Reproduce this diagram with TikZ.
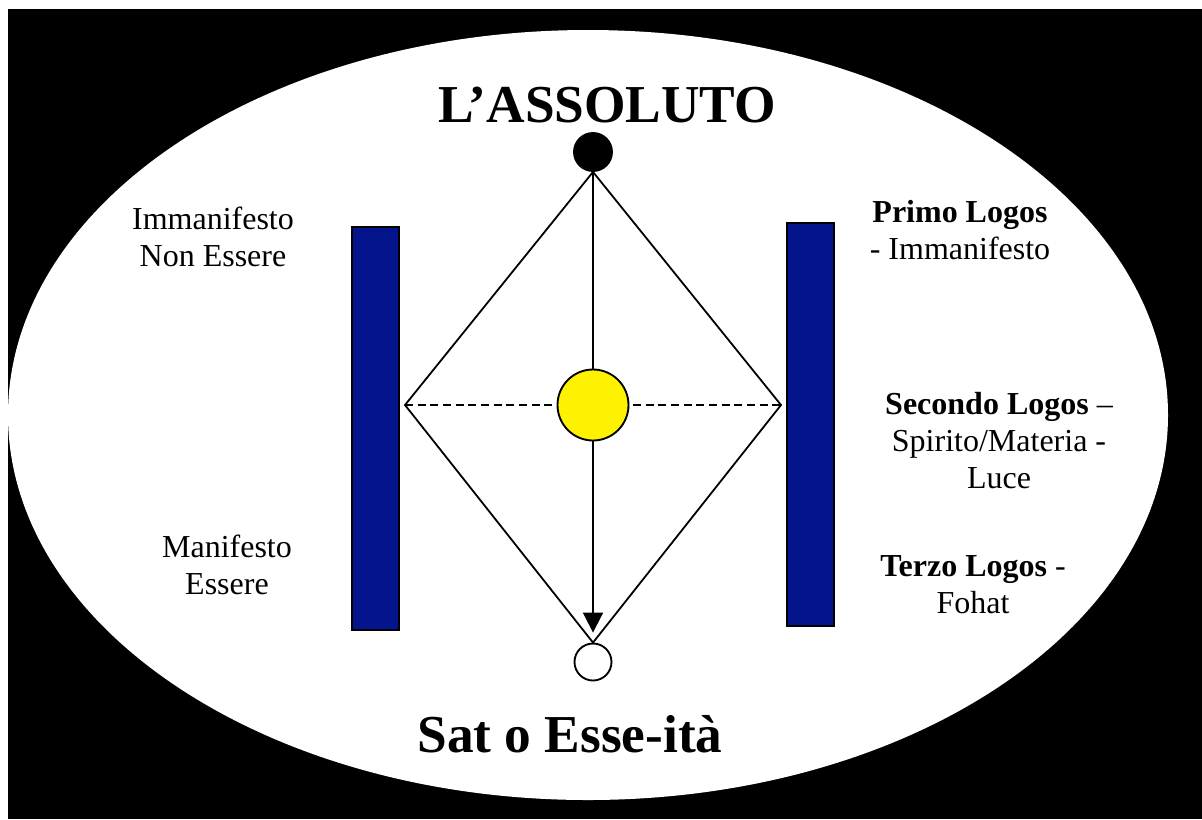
\documentclass[tikz,border=0pt]{standalone}
\usepackage{fontspec}
\setmainfont{Liberation Serif}
\usetikzlibrary{arrows.meta}
\definecolor{barblue}{RGB}{3,20,140}
\tikzset{every picture/.style={line width=0.75pt}}
\pgfdeclarelayer{bg}
\pgfdeclarelayer{lines}
\pgfsetlayers{bg,lines,main}

\begin{document}
\begin{tikzpicture}[x=0.75pt,y=0.75pt,yscale=-1,xscale=1,
	title/.style={font=\fontsize{40}{44}\selectfont\bfseries},
	lbl/.style={font=\fontsize{24}{27.75}\selectfont, align=center},
	bar/.style={draw=black, line width=1.5pt, fill=barblue, inner sep=0pt, minimum width=35.25pt, minimum height=302.25pt},
	dot/.style={circle, draw=black, line width=1.4pt, inner sep=0pt},
	edge/.style={line width=1.35pt},
	flow/.style={line width=1.35pt, -{Triangle[length=15pt,width=15pt]}}]
	\useasboundingbox (0,0) rectangle (1202,819);
	
	%background and ellipse
	\begin{pgfonlayer}{bg}
	\fill[white] (0,0) rectangle (1202,819);
	\fill[black] (8,9) rectangle (1202,819);
	\fill[white] (588,415) ellipse [x radius=580, y radius=385];
	\end{pgfonlayer}
	
	%circles
	\node[dot, fill=black, minimum size=28.5pt] (assoluto) at (593,152) {};
	\node[dot, fill=yellow, minimum size=53.25pt] (luce) at (593,405) {};
	\node[dot, fill=white, minimum size=27.75pt] (sat) at (593,662) {};
	\coordinate (sx) at (405,405);
	\coordinate (dx) at (781,405);
	
	%bars
	\node[bar] (barsx) at (375.5,428.5) {};
	\node[bar] (bardx) at (810.5,424.5) {};
	
	%diamond, axis and arrow
	\begin{pgfonlayer}{lines}
	\draw[edge] (assoluto.south) -- (sx) -- (sat.north) -- (dx) -- cycle;
	\draw[edge, dash pattern=on 6pt off 3.5pt] (sx) -- (dx);
	\draw[flow, shorten >=7.5pt] (assoluto.south) -- (sat.north);
	\end{pgfonlayer}
	
	%texts
	\node[title] (tassoluto) at (607,105) {L’ASSOLUTO};
	\node[title, anchor=base] (tsat) at (570,752) {Sat o Esse-ità};
	\node[lbl] (timm) at (213,237) {Immanifesto\\Non Essere};
	\node[lbl] (tman) at (227,565) {Manifesto\\Essere};
	\node[lbl] (tprimo) at (960,230) {\textbf{Primo Logos}\\- Immanifesto};
	\node[lbl] (tsecondo) at (999,441) {\textbf{Secondo Logos} –\\Spirito/Materia -\\Luce};
	\node[lbl] (tterzo) at (973,585) {\textbf{Terzo Logos} -\\Fohat};
	
\end{tikzpicture}
\end{document}
